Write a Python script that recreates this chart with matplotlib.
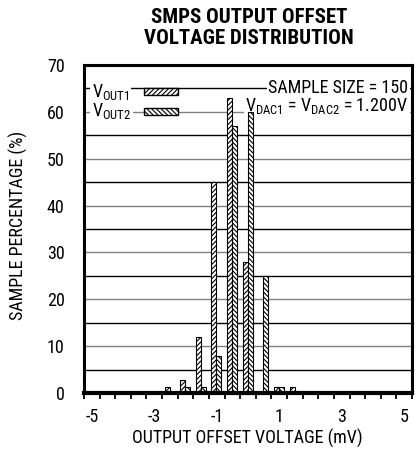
import matplotlib
matplotlib.use('Agg')
import matplotlib.pyplot as plt
from matplotlib.patches import Rectangle
import numpy as np

# histogram bins, 0.5 mV wide (left edge of each bin)
bin_left = [-2.5, -2.0, -1.5, -1.0, -0.5, 0.0, 0.5, 1.0, 1.5]
vout1 = [1.3, 2.7, 12, 45, 63, 28, 0, 1.3, 1.3]
vout2 = [0, 1.3, 1.3, 8, 57, 60, 25, 1.3, 0]
xtick_vals = [-5, -3, -1, 1, 3, 5]
xtick_labels = ['-5', '-3', '-1', '1', '3', '5']
ytick_vals = [0, 10, 20, 30, 40, 50, 60, 70]

fams = ['Roboto Condensed', 'Archivo Narrow', 'PT Sans Narrow', 'Liberation Sans Narrow', 'DejaVu Sans']
plt.rcParams['font.family'] = fams
plt.rcParams['mathtext.fontset'] = 'custom'
plt.rcParams['mathtext.rm'] = fams[0]
plt.rcParams['hatch.linewidth'] = 0.8

fig = plt.figure(figsize=(4.19, 4.54), dpi=100)
ax = fig.add_axes([84/419, 61/454, 328/419, 328/454])

h1 = '/' * 7
h2 = '\\' * 7
bw = 0.16
x = np.array(bin_left)
v1 = np.array(vout1, dtype=float)
v2 = np.array(vout2, dtype=float)
m1 = v1 > 0
m2 = v2 > 0
ax.bar(x[m1] + 0.08 + bw/2, v1[m1], width=bw, facecolor='white', edgecolor='black',
       hatch=h1, lw=0.8, zorder=3)
ax.bar(x[m2] + 0.08 + 1.5*bw, v2[m2], width=bw, facecolor='white', edgecolor='black',
       hatch=h2, lw=0.8, zorder=3)

# grid lines, every 5%
for v in range(5, 70, 5):
    ax.axhline(v, color='#808080' if v % 10 == 0 else 'black', lw=1, zorder=1)

ax.set_xlim(-5, 5.5)
ax.set_ylim(0, 70)

ax.set_xticks(np.arange(-5, 5.51, 0.5), minor=True)
ax.set_xticks(np.array(xtick_vals) + 0.25)
ax.set_xticklabels(xtick_labels)
ax.tick_params(axis='x', which='minor', direction='out', length=4, width=1.3)
ax.tick_params(axis='x', which='major', length=0, pad=11, labelsize=13)
ax.set_yticks(ytick_vals)
ax.tick_params(axis='y', length=0, pad=14, labelsize=13)

for s in ['left', 'top', 'right']:
    ax.spines[s].set_linewidth(2.2)
ax.spines['bottom'].set_linewidth(3)
for s in ax.spines.values():
    s.set_zorder(5)

# legend / notes
box = dict(facecolor='white', edgecolor='none', pad=1)
ax.text(-4.75, 64.3, r'V$_{\rm OUT1}$', fontsize=13, va='center', ha='left', bbox=box, zorder=2)
ax.text(-4.75, 60.1, r'V$_{\rm OUT2}$', fontsize=13, va='center', ha='left', bbox=box, zorder=2)
ax.add_patch(Rectangle((-3.07, 63.6), 1.09, 1.5, facecolor='white', edgecolor='black',
                       hatch=h1, lw=1, zorder=4))
ax.add_patch(Rectangle((-3.07, 59.4), 1.09, 1.5, facecolor='white', edgecolor='black',
                       hatch=h2, lw=1, zorder=4))
ax.text(5.38, 65.0, 'SAMPLE SIZE = 150', fontsize=13, va='center', ha='right', bbox=box, zorder=2)
ax.text(5.38, 61.2, r'V$_{\rm DAC1}$ = V$_{\rm DAC2}$ = 1.200V', fontsize=13, va='center',
        ha='right', bbox=box, zorder=2)

fig.text(0.595, 1 - 28/454, 'SMPS OUTPUT OFFSET\nVOLTAGE DISTRIBUTION', ha='center', va='center',
         fontsize=15, fontweight='heavy', linespacing=1.1)
fig.text(0.59, 1 - 438/454, 'OUTPUT OFFSET VOLTAGE (mV)', ha='center', va='center', fontsize=13)
fig.text(18/419, 1 - 225/454, 'SAMPLE PERCENTAGE (%)', ha='center', va='center', fontsize=13,
         rotation=90)

fig.savefig('out.png', dpi=100)
